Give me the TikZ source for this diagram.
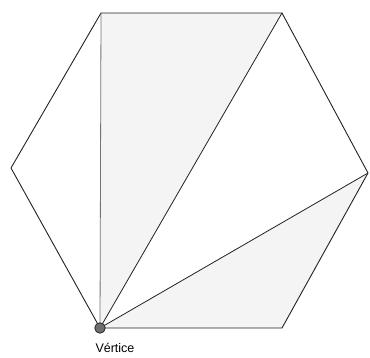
\documentclass[tikz,border=0pt]{standalone}
\usepackage{fontspec}
\setmainfont{Liberation Sans}
\usetikzlibrary{positioning}
\definecolor{Shade}{HTML}{F4F4F4}
\definecolor{Edge}{HTML}{222222}
\definecolor{Dot}{HTML}{6E6E6E}

\begin{document}
\begin{tikzpicture}[
  x=1pt,y=-1pt,
  side/.style={draw=Edge,line width=0.9pt,line join=round},
  diag/.style={draw=Edge,line width=0.8pt},
  vdot/.style={circle,draw=black!85,fill=Dot,line width=0.8pt,minimum size=10.5pt,inner sep=0pt}
]
  \useasboundingbox (0,0) rectangle (370,358);
  % corners of the hexagon
  \coordinate (tl) at (101,13);
  \coordinate (tr) at (282,13);
  \coordinate (r) at (368,173);
  \coordinate (br) at (282,328);
  \coordinate (bl) at (100,328);
  \coordinate (l) at (11,168);
  % shaded triangles
  \fill[Shade] (bl) -- (tl) -- (tr) -- cycle;
  \fill[Shade] (bl) -- (r) -- (br) -- cycle;
  \draw[side] (tl) -- (tr) -- (r) -- (br) -- (bl) -- (l) -- cycle;
  \draw[diag,draw=black!55] (bl) -- (tl);
  \draw[diag] (bl) -- (tr);
  \draw[diag] (bl) -- (r);
  \node[vdot] (vert) at (bl) {};
  \node[font=\fontsize{12.5}{14}\selectfont,below right=8pt and -12pt of vert] (lab) {Vértice};
\end{tikzpicture}
\end{document}
